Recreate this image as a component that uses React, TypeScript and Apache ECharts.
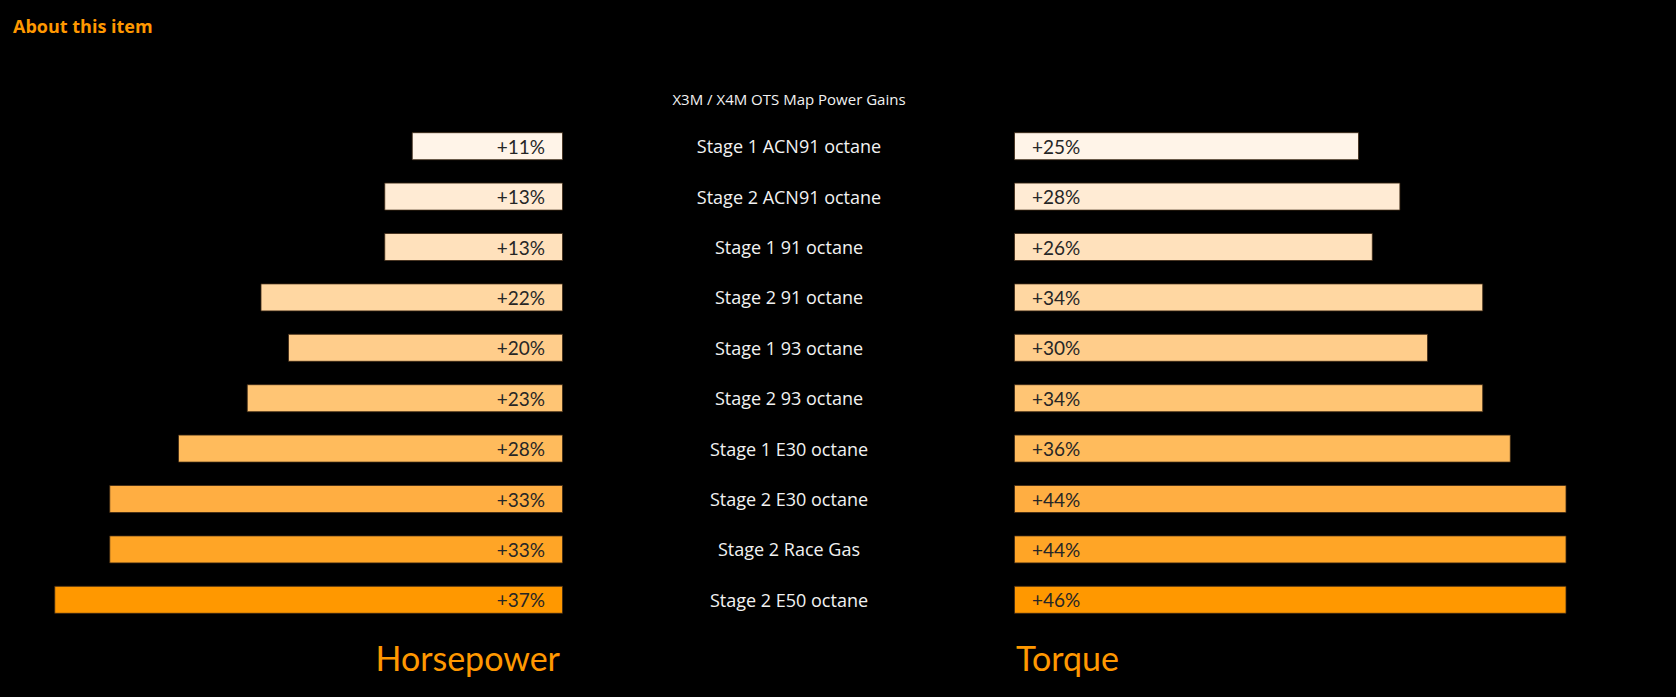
import { useEffect, useRef } from 'react'
import * as echarts from 'echarts'

const stages = [
  'Stage 1 ACN91 octane',
  'Stage 2 ACN91 octane',
  'Stage 1 91 octane',
  'Stage 2 91 octane',
  'Stage 1 93 octane',
  'Stage 2 93 octane',
  'Stage 1 E30 octane',
  'Stage 2 E30 octane',
  'Stage 2 Race Gas',
  'Stage 2 E50 octane',
]
const hpGains = [11, 13, 13, 22, 20, 23, 28, 33, 33, 37]
const torqueGains = [25, 28, 26, 34, 30, 34, 36, 44, 44, 46]
const rowColors = [
  '#fff4e8',
  '#ffebd4',
  '#ffe1bc',
  '#ffd7a2',
  '#ffcd8b',
  '#ffc574',
  '#ffbb5c',
  '#ffae42',
  '#ffa526',
  '#ff9800',
]

const FONT = 'Lato, "Noto Sans", sans-serif'
const WIDE = '"Open Sans", "Noto Sans", sans-serif'
const ORANGE = '#ff9800'

export default function App() {
  const elRef = useRef<HTMLDivElement>(null)

  useEffect(() => {
    document.body.style.margin = '0'
    document.body.style.background = '#000'
    if (!elRef.current) return
    const chart = echarts.init(elRef.current, null, { renderer: 'svg' })

    const bars = (vals: number[]) =>
      vals.map((v, i) => ({ value: v, itemStyle: { color: rowColors[i] } }))

    const barLabel = (position: string) => ({
      show: true,
      position,
      distance: 18,
      formatter: (p: any) => `+${p.value}%`,
      color: '#262626',
      fontSize: 19,
      fontFamily: FONT,
    })

    chart.setOption({
      animation: false,
      backgroundColor: '#000',
      textStyle: { fontFamily: FONT },
      grid: [
        { left: 13, width: 550, top: 121, height: 504 },
        { left: 1014, width: 552, top: 121, height: 504 },
      ],
      xAxis: [
        { gridIndex: 0, type: 'value', min: 0, max: 40, inverse: true, show: false },
        { gridIndex: 1, type: 'value', min: 0, max: 40, show: false },
      ],
      yAxis: [
        {
          gridIndex: 0,
          type: 'category',
          data: stages,
          inverse: true,
          position: 'right',
          axisLine: { show: false },
          axisTick: { show: false },
          axisLabel: {
            align: 'center',
            margin: 226,
            color: '#f2f2f2',
            fontSize: 18,
            fontFamily: WIDE,
          },
        },
        { gridIndex: 1, type: 'category', data: stages, inverse: true, show: false },
      ],
      graphic: [
        {
          type: 'text',
          x: 13,
          y: 26,
          style: {
            text: 'About this item',
            fill: ORANGE,
            font: `bold 18px ${WIDE}`,
            verticalAlign: 'middle',
          },
        },
        {
          type: 'text',
          x: 789,
          y: 99,
          style: {
            text: 'X3M / X4M OTS Map Power Gains',
            fill: '#f2f2f2',
            font: `15px ${WIDE}`,
            align: 'center',
            verticalAlign: 'middle',
          },
        },
        {
          type: 'text',
          x: 560,
          y: 657,
          style: {
            text: 'Horsepower',
            fill: ORANGE,
            font: `34px ${FONT}`,
            align: 'right',
            verticalAlign: 'middle',
          },
        },
        {
          type: 'text',
          x: 1016,
          y: 657,
          style: {
            text: 'Torque',
            fill: ORANGE,
            font: `34px ${FONT}`,
            align: 'left',
            verticalAlign: 'middle',
          },
        },
      ],
      series: [
        {
          name: 'Horsepower',
          type: 'bar',
          xAxisIndex: 0,
          yAxisIndex: 0,
          barWidth: 28,
          data: bars(hpGains),
          itemStyle: { borderColor: 'rgba(60,40,20,0.8)', borderWidth: 1 },
          label: barLabel('insideRight'),
        },
        {
          name: 'Torque',
          type: 'bar',
          xAxisIndex: 1,
          yAxisIndex: 1,
          barWidth: 28,
          clip: true,
          data: bars(torqueGains),
          itemStyle: { borderColor: 'rgba(60,40,20,0.8)', borderWidth: 1 },
          label: barLabel('insideLeft'),
        },
      ],
    })

    return () => {
      chart.dispose()
    }
  }, [])

  return <div ref={elRef} style={{ width: 1676, height: 697 }} />
}
